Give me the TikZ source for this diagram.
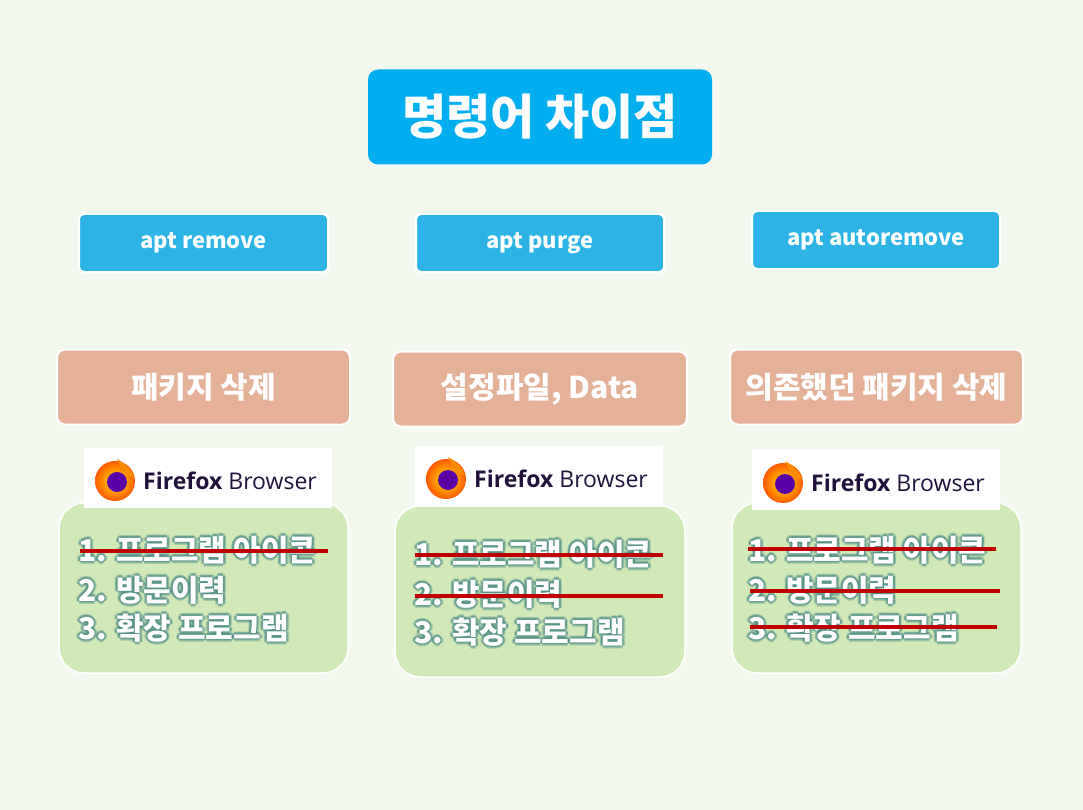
\documentclass[tikz,border=0pt]{standalone}
\usepackage{fontspec}
\setmainfont{Noto Sans CJK KR}
\newfontfamily\ffont{Open Sans}
\definecolor{bg}{HTML}{F2F8EE}
\definecolor{titleblue}{HTML}{00AEEF}
\definecolor{cmdblue}{HTML}{2DB4E6}
\definecolor{peach}{HTML}{E4B197}
\definecolor{greenbox}{HTML}{D1E9B6}
\definecolor{strike}{HTML}{C00000}
\definecolor{glow}{HTML}{4F8F86}
\definecolor{ffpurple}{HTML}{20123A}
\tikzset{
  cmd/.style={draw=white,line width=2pt,fill=cmdblue,rounded corners=5pt,text=white,font=\fontsize{22}{26}\selectfont\bfseries},
  peachbox/.style={draw=white,line width=2pt,fill=peach,rounded corners=8pt,text=white,font=\fontsize{30}{34}\selectfont\bfseries},
  gbox/.style={draw=white,line width=1.5pt,fill=greenbox,rounded corners=25pt},
  ffbox/.style={fill=white},
  strikeline/.style={strike,line width=4.5pt},
  itemtxt/.style={anchor=west,font=\fontsize{30}{34}\selectfont\bfseries,inner sep=0pt},
}
\newcommand{\glowline}[3]{%
  \foreach \dx/\dy in {-2/0,2/0,0/-2,0/2,-1.5/-1.5,1.5/1.5,-1.5/1.5,1.5/-1.5,-3/0,3/0,0/3,0/-3}{
    \node[itemtxt,text=glow,opacity=0.35] at (#1+\dx,#2+\dy) {#3};}
  \node[itemtxt,text=white] at (#1,#2) {#3};}
\newcommand{\fflogo}[3]{%
  \fill[ffbox] (#1,#2) rectangle (#1+248,#2+60);
  \shade[inner color=yellow!80!orange,outer color=orange!70!red] (#1+31,#2+33) circle (20);
  \fill[violet!70!blue] (#1+33,#2+34) circle (10);
  \fill[orange!90!yellow] (#1+33,#2+11) .. controls (#1+42,#2+16) and (#1+48,#2+22) .. (#1+50,#2+30) -- (#1+40,#2+26) -- cycle;
  \node[anchor=west,inner sep=0pt,text=ffpurple,font=\ffont\fontsize{23}{27}\selectfont] at (#1+59,#2+33) {\textbf{Firefox} Browser};}
\begin{document}
\begin{tikzpicture}[x=1pt,y=-1pt]
\useasboundingbox[fill=bg] (0,0) rectangle (1083,810);
\node[fill=titleblue,rounded corners=10pt,minimum width=344pt,minimum height=95pt,text=white,font=\fontsize{48}{54}\selectfont\bfseries] (title) at (540,117) {명령어 차이점};
\node[cmd,minimum width=249pt,minimum height=58pt] (c1) at (203.5,243) {apt remove};
\node[cmd,minimum width=248pt,minimum height=58pt] (c2) at (540,243) {apt purge};
\node[cmd,minimum width=248pt,minimum height=58pt] (c3) at (876,240) {apt autoremove};
\node[peachbox,minimum width=293pt,minimum height=75pt] (p1) at (203.5,387) {패키지 삭제};
\node[peachbox,minimum width=294pt,minimum height=75pt] (p2) at (540,389) {설정파일, Data};
\node[peachbox,minimum width=293pt,minimum height=75pt] (p3) at (876.5,387) {의존했던 패키지 삭제};
\node[gbox,minimum width=289pt,minimum height=170pt] (g1) at (203.5,588) {};
\node[gbox,minimum width=290pt,minimum height=171pt] (g2) at (540,591.5) {};
\node[gbox,minimum width=289pt,minimum height=170pt] (g3) at (876.5,588) {};
\fflogo{84}{448}{}
\fflogo{415}{446}{}
\fflogo{752}{450}{}
\glowline{78}{550}{1. 프로그램 아이콘}
\glowline{78}{590}{2. 방문이력}
\glowline{78}{628}{3. 확장 프로그램}
\glowline{414}{554}{1. 프로그램 아이콘}
\glowline{414}{594}{2. 방문이력}
\glowline{414}{632}{3. 확장 프로그램}
\glowline{748}{550}{1. 프로그램 아이콘}
\glowline{748}{590}{2. 방문이력}
\glowline{748}{628}{3. 확장 프로그램}
\draw[strikeline] (80,551) -- (328,551);
\draw[strikeline] (415,555) -- (663,555);
\draw[strikeline] (415,596) -- (663,596);
\draw[strikeline] (748,549) -- (996,549);
\draw[strikeline] (750,591) -- (1000,591);
\draw[strikeline] (750,627) -- (997,627);
\end{tikzpicture}
\end{document}
